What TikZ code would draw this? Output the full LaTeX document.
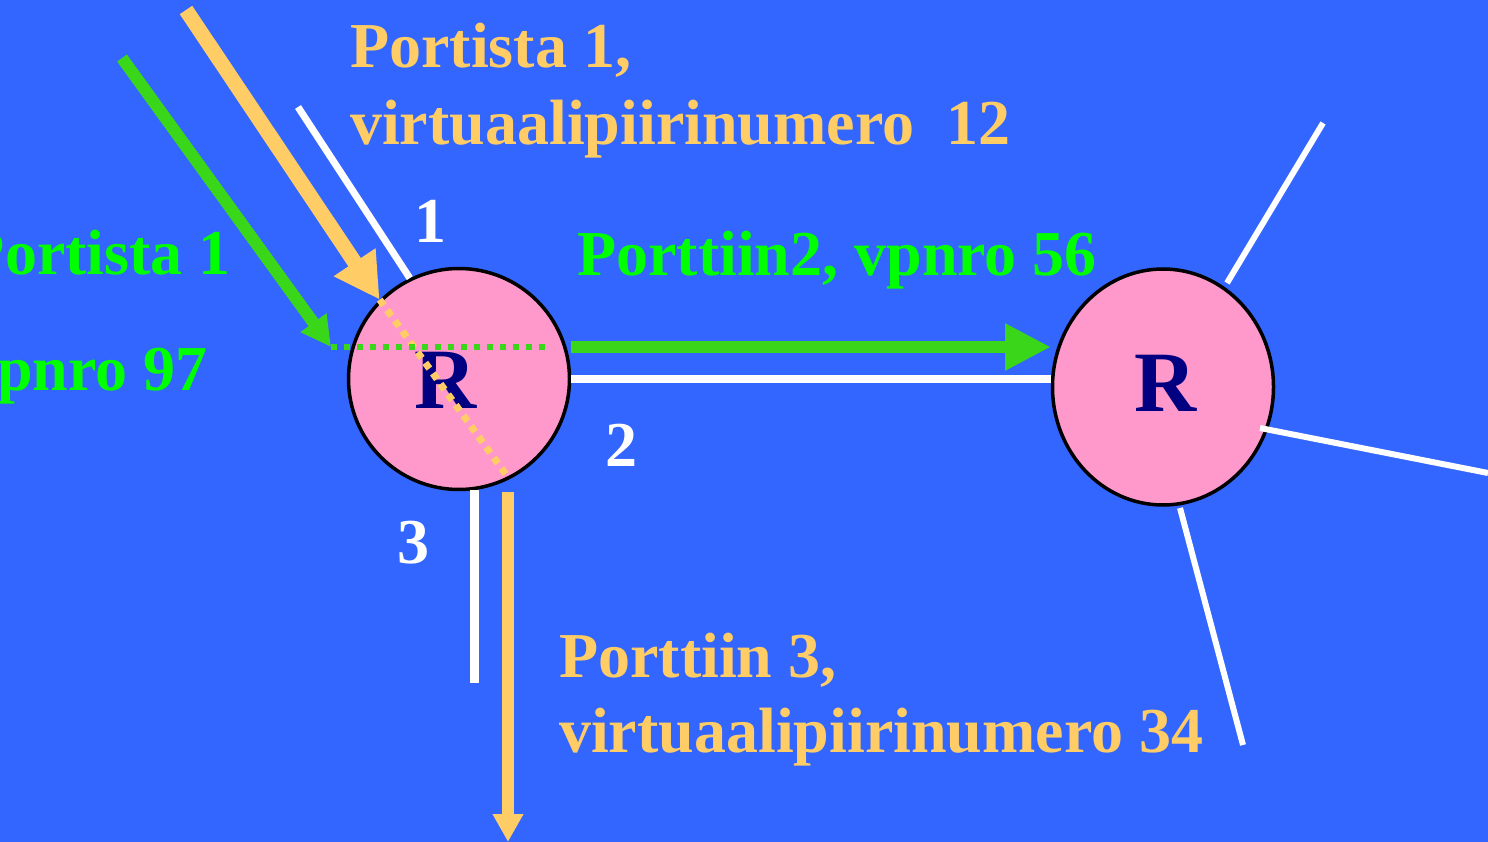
\documentclass[tikz,border=0pt]{standalone}
\usepackage{fontspec}
\setmainfont{Liberation Serif}
\usetikzlibrary{arrows.meta,shapes.geometric}
\definecolor{bg}{HTML}{3366FF}
\definecolor{pinkr}{HTML}{FF99CC}
\definecolor{orangeq}{HTML}{FFCC66}
\definecolor{greenarr}{HTML}{3AD61A}
\definecolor{greentxt}{HTML}{00FF00}
\definecolor{navyr}{HTML}{000080}
\begin{document}
\begin{tikzpicture}[x=1pt,y=-1pt,
  router/.style={draw=black,line width=3.5pt,fill=pinkr,inner sep=0pt},
  rlabel/.style={inner sep=0pt,text=navyr,font=\bfseries\fontsize{86}{86}\selectfont},
  txt/.style={inner sep=0pt,font=\bfseries\fontsize{64}{70}\selectfont},
  otxt/.style={txt,text=orangeq},
  gtxt/.style={txt,text=greentxt},
  wtxt/.style={txt,text=white},
  wire/.style={draw=white,line width=7pt},
  wirethin/.style={draw=white,line width=6pt},
  odot/.style={draw=orangeq,line width=7pt,dash pattern=on 7pt off 6pt},
  gdot/.style={draw=greenarr,line width=6pt,dash pattern=on 6pt off 7pt},
]
\useasboundingbox (0,0) rectangle (1488,842);
\fill[bg] (0,0) rectangle (1488,842);

% routers
\node[router,circle,minimum size=221pt] (r1) at (459,379) {};
\node[router,ellipse,minimum width=221pt,minimum height=236pt] (r2) at (1163,387) {};
\node[rlabel] (r1l) at (446,380) {R};
\node[rlabel] (r2l) at (1166,383) {R};

% coordinates
\coordinate (p1) at (298,107);
\coordinate (p3) at (475,683);
\coordinate (ostart) at (186,10);
\coordinate (odotend) at (507,476);
\coordinate (odown) at (508,492);
\coordinate (odownend) at (508,842);
\coordinate (gstart) at (122,58);
\coordinate (gtip) at (331,347);
\coordinate (gdotend) at (550,347);
\coordinate (gright) at (571,347);
\coordinate (gend) at (1051,347);
\coordinate (w2a) at (571,379);
\coordinate (w2b) at (1051,379);
\coordinate (qa) at (1227,283);
\coordinate (qb) at (1323,123);
\coordinate (qc) at (1260,428);
\coordinate (qd) at (1488,473);
\coordinate (qe) at (1180,508);
\coordinate (qf) at (1243,745);

% white port lines of router 1
\draw[wire] (r1.116) -- (p1);
\draw[wire,line width=8pt] (w2a) -- (w2b);
\draw[wire,line width=8.5pt] (r1.-82) -- (r1.-82 |- p3);

% white lines of router 2
\draw[wirethin] (qa) -- (qb);
\draw[wirethin] (qc) -- (qd);
\draw[wirethin] (qe) -- (qf);

% orange path
\draw[draw=orangeq,line width=15pt,-{Triangle[length=45pt,width=47pt]}] (ostart) -- (r1.135);
\draw[odot] (r1.135) -- (odotend);
\draw[draw=orangeq,line width=12pt,-{Triangle[length=28pt,width=29pt]}] (odown) -- (odownend);

% green path
\draw[draw=greenarr,line width=12pt,-{Triangle[length=30pt,width=30pt]}] (gstart) -- (gtip);
\draw[gdot] (gtip) -- (gdotend);
\draw[draw=greenarr,line width=12pt,-{Triangle[length=46pt,width=44pt]}] (gright) -- (gend);

% labels
\node[otxt,anchor=base west] (t1) at (350,68) {Portista 1,};
\node[otxt,anchor=base west] (t2) at (350,145) {virtuaalipiirinumero\ \ 12};
\node[gtxt,anchor=base east] (t3) at (231,275) {Portista 1};
\node[gtxt,anchor=base east] (t4) at (208,390) {vpnro 97};
\node[gtxt,anchor=base west] (t5) at (577,276) {Porttiin2, vpnro 56};
\node[otxt,anchor=base west] (t6) at (559,677) {Porttiin 3,};
\node[otxt,anchor=base west] (t7) at (559,752) {virtuaalipiirinumero 34};
\node[wtxt,anchor=base] (n1) at (430,243) {1};
\node[wtxt,anchor=base] (n2) at (621,466) {2};
\node[wtxt,anchor=base] (n3) at (413,563) {3};
\end{tikzpicture}
\end{document}
